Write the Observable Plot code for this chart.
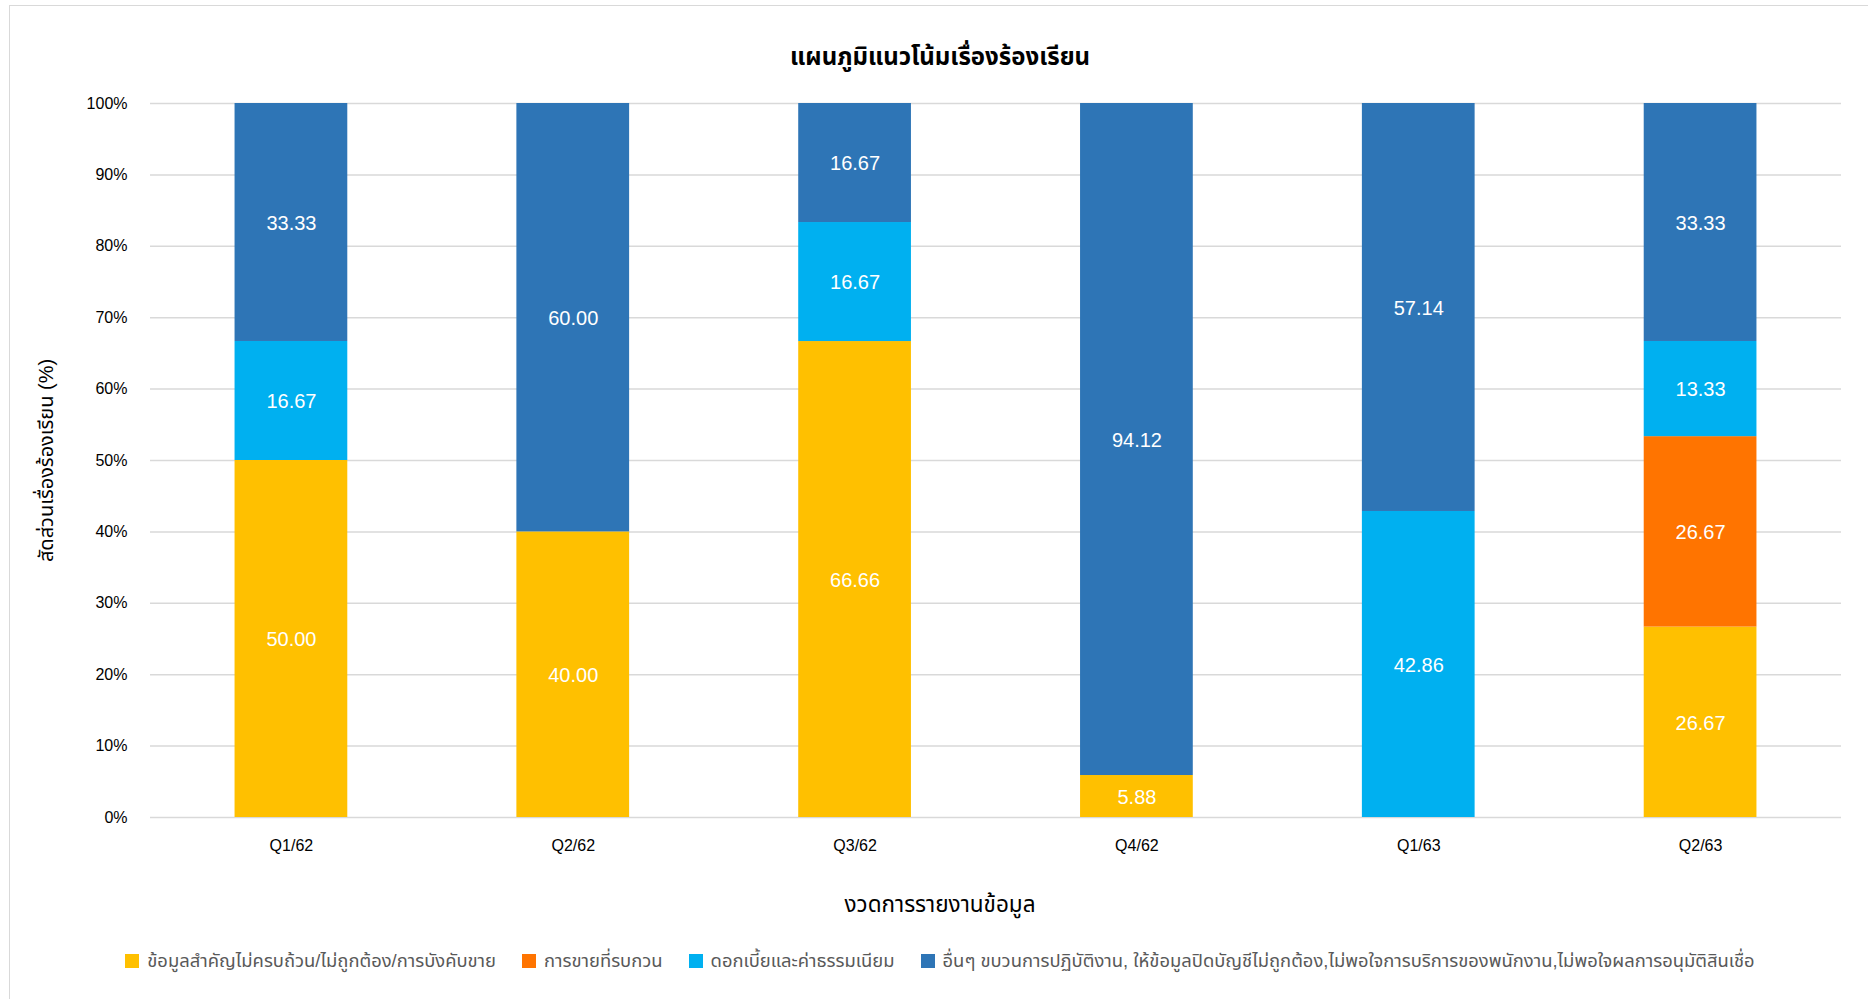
<!DOCTYPE html>
<html>
<head>
<meta charset="utf-8">
<script src="https://cdn.jsdelivr.net/npm/d3@7"></script>
<script src="https://cdn.jsdelivr.net/npm/@observablehq/plot@0.6"></script>
<style>
  html, body { margin: 0; padding: 0; background: #fff; }
  body { width: 1868px; height: 999px; overflow: hidden; font-family: "Liberation Sans", "Noto Sans Thai", "Noto Sans", sans-serif; }
  #frame { position: absolute; left: 9px; top: 5px; width: 1880px; height: 1000px; border: 1.5px solid #d9d9d9; box-sizing: border-box; }
  #title { position: absolute; left: 0; top: 40px; width: 1880px; text-align: center; font-size: 24px; font-weight: bold; color: #000; line-height: 34px; }
  #chart { position: absolute; left: 0; top: 80px; }
  #xtitle { position: absolute; left: 0; top: 890px; width: 1880px; text-align: center; font-size: 22.5px; color: #000; line-height: 30px; }
  #legend { position: absolute; left: 0; top: 950px; width: 1880px; display: flex; justify-content: center; font-size: 18.4px; color: #595959; line-height: 22px; }
  .item { display: flex; align-items: center; margin: 0 13px; white-space: nowrap; }
  .sw { width: 14px; height: 14px; margin-right: 8px; }
</style>
</head>
<body>
<div id="frame"></div>
<div id="title">แผนภูมิแนวโน้มเรื่องร้องเรียน</div>
<div id="chart"></div>
<div id="xtitle"></div>
<div id="legend"></div>
<script>
const categories = ["Q1/62", "Q2/62", "Q3/62", "Q4/62", "Q1/63", "Q2/63"];
const seriesNames = [
  "ข้อมูลสำคัญไม่ครบถ้วน/ไม่ถูกต้อง/การบังคับขาย",
  "การขายที่รบกวน",
  "ดอกเบี้ยและค่าธรรมเนียม",
  "อื่นๆ ขบวนการปฏิบัติงาน, ให้ข้อมูลปิดบัญชีไม่ถูกต้อง,ไม่พอใจการบริการของพนักงาน,ไม่พอใจผลการอนุมัติสินเชื่อ"
];
const seriesColors = ["#FFC000", "#FF7400", "#00B0F0", "#2E75B6"];
const infoValues     = [50.00, 40.00, 66.66, 5.88, 0, 26.67];
const disturbValues  = [0, 0, 0, 0, 0, 26.67];
const feeValues      = [16.67, 0, 16.67, 0, 42.86, 13.33];
const otherValues    = [33.33, 60.00, 16.67, 94.12, 57.14, 33.33];
const yTicks = [0, 10, 20, 30, 40, 50, 60, 70, 80, 90, 100];
const xTitle = "งวดการรายงานข้อมูล";
const yTitle = "สัดส่วนเรื่องร้องเรียน (%)";

const seriesValues = [infoValues, disturbValues, feeValues, otherValues];
const data = [];
categories.forEach((c, i) => {
  seriesValues.forEach((vals, s) => {
    data.push({cat: c, series: seriesNames[s], value: vals[i]});
  });
});
const labelData = data.filter(d => d.value > 0);

const chart = Plot.plot({
  width: 1868,
  height: 850,
  marginTop: 23,
  marginLeft: 150,
  marginRight: 27,
  marginBottom: 113,
  style: {fontFamily: "'Liberation Sans', 'Noto Sans Thai', sans-serif", fontSize: "16px", color: "#000", background: "transparent"},
  x: {domain: categories, paddingInner: 0.6, paddingOuter: 0.3, round: false},
  y: {domain: [0, 100]},
  color: {domain: seriesNames, range: seriesColors},
  marks: [
    Plot.ruleY(yTicks, {stroke: "#d9d9d9", strokeWidth: 1.5}),
    Plot.barY(data, {x: "cat", y: "value", fill: "series", order: seriesNames}),
    Plot.text(labelData, Plot.stackY({x: "cat", y: "value", z: "series", order: seriesNames, text: d => d.value.toFixed(2), fill: "white", fontSize: 20, dy: 1})),
    Plot.axisX({tickSize: 0, tickPadding: 22, fontSize: 16, label: null}),
    Plot.axisY({ticks: yTicks, tickSize: 0, tickPadding: 23, tickFormat: d => d + "%", fontSize: 16, label: yTitle, labelArrow: "none", labelAnchor: "center", labelOffset: 112})
  ]
});
document.getElementById("chart").appendChild(chart);
d3.select(chart).selectAll("[aria-label='y-axis label'] text")
  .style("font-size", "20px")
  .each(function() { this.textContent = this.textContent.replace(/\s*[↑→]\s*/g, ""); });

document.getElementById("xtitle").textContent = xTitle;

const legend = document.getElementById("legend");
seriesNames.forEach((n, i) => {
  const it = document.createElement("div");
  it.className = "item";
  const sw = document.createElement("div");
  sw.className = "sw";
  sw.style.background = seriesColors[i];
  const tx = document.createElement("span");
  tx.textContent = n;
  it.appendChild(sw); it.appendChild(tx);
  legend.appendChild(it);
});
</script>
</body>
</html>
